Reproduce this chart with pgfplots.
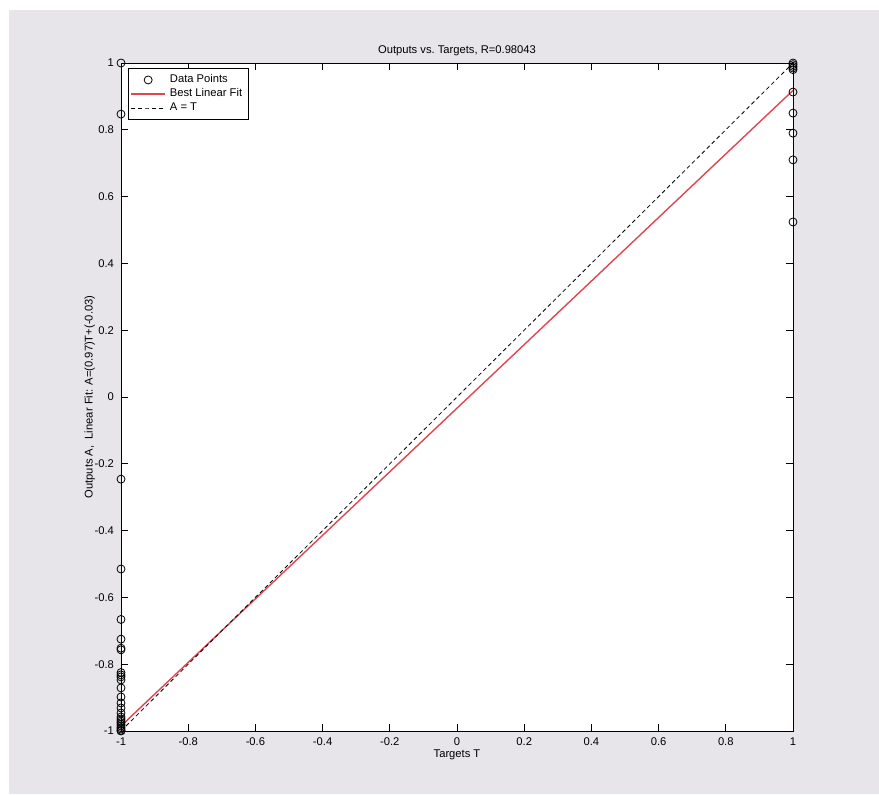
\documentclass[border=0pt]{standalone}
\usepackage{fontspec}
\setmainfont{Liberation Sans}
\usepackage{pgfplots}
\pgfplotsset{compat=1.18}
\definecolor{figgray}{RGB}{231,229,234}
\definecolor{fitred}{RGB}{225,70,80}

\begin{document}
\begin{tikzpicture}
\fill[white] (0pt,0pt) rectangle (439.5pt,397pt);
\fill[figgray] (4.5pt,0pt) rectangle (439.5pt,392pt);
\begin{axis}[
  at={(60.5pt,31.5pt)}, anchor=south west,
  scale only axis, width=336pt, height=334pt,
  xmin=-1, xmax=1, ymin=-1, ymax=1,
  xtick={-1,-0.8,...,1}, ytick={-1,-0.8,...,1},
  tick align=inside, major tick length=3.5pt,
  tick style={black, line width=0.4pt},
  axis line style={line width=0.4pt},
  axis background/.style={fill=white},
  font=\fontsize{5.6}{6.5}\selectfont,
  tick label style={font=\fontsize{5.6}{6.5}\selectfont},
  /pgf/number format/assume math mode=true,
  /pgf/number format/fixed,
  /pgf/number format/precision=1,
  xticklabel style={yshift=0pt},
  title={Outputs vs.\ Targets, R=0.98043},
  title style={yshift=-6pt},
  xlabel={Targets T},
  ylabel={Outputs A,\ \ Linear Fit: A=(0.97)T+(-0.03)},
  ylabel style={yshift=-7pt},
  xlabel style={yshift=5pt},
  clip=false,
  legend cell align=left,
  legend style={at={(0.0104,0.9925)}, anchor=north west, draw=black, line width=0.4pt,
    fill=white, inner sep=1pt, row sep=-2.5pt, font=\fontsize{5.6}{6.5}\selectfont},
]
% data points
\addplot[only marks, mark=o, mark size=2pt, black, mark options={line width=0.4pt}]
  coordinates {
  (-1,1.0)(-1,0.847)(-1,-0.246)(-1,-0.515)(-1,-0.666)(-1,-0.725)(-1,-0.752)(-1,-0.757)
  (-1,-0.825)(-1,-0.832)(-1,-0.838)(-1,-0.847)(-1,-0.871)(-1,-0.898)(-1,-0.916)
  (-1,-0.931)(-1,-0.946)(-1,-0.958)(-1,-0.964)(-1,-0.970)(-1,-0.975)(-1,-0.980)
  (-1,-0.985)(-1,-0.990)(-1,-0.994)(-1,-0.998)(-1,-1.0)
  (1,1.0)(1,0.995)(1,0.990)(1,0.985)(1,0.980)(1,0.913)(1,0.850)(1,0.790)(1,0.710)(1,0.524)
  };
\addlegendentry{Data Points}
% best linear fit
\addplot[fitred, line width=0.7pt] coordinates {(-1,-0.985)(1,0.918)};
\addlegendentry{Best Linear Fit}
% A = T
\addplot[black, dashed, line width=0.4pt, dash pattern=on 2pt off 1.5pt] coordinates {(-1,-1)(1,1)};
\addlegendentry{A = T}
\end{axis}
\end{tikzpicture}
\end{document}
